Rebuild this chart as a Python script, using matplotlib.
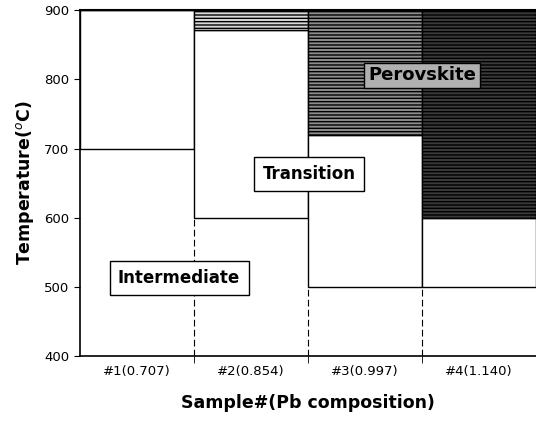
import matplotlib.pyplot as plt
import numpy as np

plt.rcParams['font.family'] = ['DejaVu Sans']

# phase boundaries
samples = ["#1(0.707)", "#2(0.854)", "#3(0.997)", "#4(1.140)"]
intermediate_top = [700, 600, 500, 500]
perovskite_bottom = [900, 872, 720, 600]
perovskite_shade = ["#ffffff", "#d8d8d8", "#8c8c8c", "#3a3a3a"]
y_ticks = [400, 500, 600, 700, 800, 900]

fig = plt.figure(figsize=(5.36, 4.22), dpi=100)
ax = fig.add_axes([0.149, 0.156, 0.851, 0.82])

x = np.arange(len(samples))
inter = np.array(intermediate_top)
perov = np.array(perovskite_bottom)

# transition region
ax.bar(x, perov - inter, bottom=inter, width=1, align='edge',
       facecolor='white', edgecolor='black', linewidth=1.0, zorder=2)
# perovskite region (textured)
ax.bar(x, 900 - perov, bottom=perov, width=1, align='edge',
       color=perovskite_shade, edgecolor='black', hatch='-----',
       linewidth=1.0, zorder=2)

# dashed column separators inside the intermediate region
for i in range(1, len(samples)):
    ax.plot([i, i], [400, inter[i]], color='black', lw=0.8,
            ls=(0, (6, 3)), zorder=3)

ax.text(0.87, 513, "Intermediate", ha='center', va='center', fontsize=12,
        fontweight='bold', zorder=5,
        bbox=dict(boxstyle='square,pad=0.5', fc='white', ec='black', lw=1))
ax.text(2.01, 663, "Transition", ha='center', va='center', fontsize=12,
        fontweight='bold', zorder=5,
        bbox=dict(boxstyle='square,pad=0.5', fc='white', ec='black', lw=1))
ax.text(3.0, 806, "Perovskite", ha='center', va='center', fontsize=13,
        fontweight='bold', zorder=5,
        bbox=dict(boxstyle='square,pad=0.2', fc='#b0b0b0', ec='black', lw=1))

ax.set_xlim(0, 4)
ax.set_ylim(400, 900)
ax.set_yticks(y_ticks)
ax.set_yticklabels([str(v) for v in y_ticks], fontsize=9.5)
ax.set_xticks(x + 0.5)
ax.set_xticklabels(samples, fontsize=9.5)
ax.set_xticks([1, 2, 3], minor=True)
ax.tick_params(axis='x', which='major', length=0, pad=6)
ax.tick_params(axis='x', which='minor', length=5, direction='out')
ax.tick_params(axis='y', length=4, direction='out')

ax.spines['right'].set_visible(False)
ax.spines['top'].set_linewidth(1.5)
ax.spines['left'].set_linewidth(1.2)
ax.spines['bottom'].set_linewidth(1.2)

ax.set_ylabel("Temperature($^{o}$C)", fontsize=12.5, fontweight='bold', labelpad=6)
ax.set_xlabel("Sample#(Pb composition)", fontsize=12.5, fontweight='bold', labelpad=12)

fig.savefig("out.png", dpi=100)
